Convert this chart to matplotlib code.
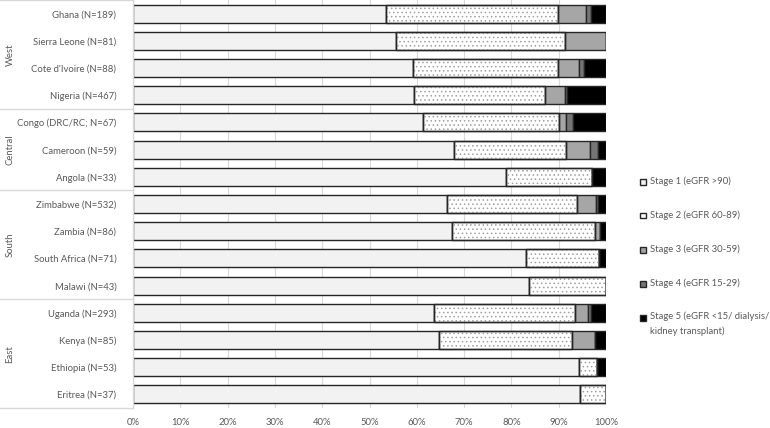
import matplotlib
matplotlib.use("Agg")
import matplotlib.pyplot as plt
from matplotlib.patches import Rectangle
from matplotlib.lines import Line2D

plt.rcParams['font.family'] = ['Lato', 'DejaVu Sans']

countries = ["Ghana (N=189)", "Sierra Leone (N=81)", "Cote d'Ivoire (N=88)", "Nigeria (N=467)",
             "Congo (DRC/RC; N=67)", "Cameroon (N=59)", "Angola (N=33)",
             "Zimbabwe (N=532)", "Zambia (N=86)", "South Africa (N=71)", "Malawi (N=43)",
             "Uganda (N=293)", "Kenya (N=85)", "Ethiopia (N=53)", "Eritrea (N=37)"]
regions = ["West", "Central", "South", "East"]
region_sizes = [4, 3, 4, 4]

stage1 = [53.4, 55.5, 59.1, 59.4, 61.4, 67.8, 78.8, 66.3, 67.4, 83.1, 83.7, 63.7, 64.7, 94.3, 94.6]
stage2 = [36.5, 35.8, 30.7, 27.8, 28.6, 23.7, 18.2, 27.5, 30.2, 15.5, 16.3, 29.7, 28.2, 3.8, 5.4]
stage3 = [5.8, 8.7, 4.5, 4.1, 1.5, 5.1, 0.0, 4.0, 1.2, 0.0, 0.0, 2.7, 4.7, 0.0, 0.0]
stage4 = [1.1, 0.0, 1.0, 0.5, 1.5, 1.7, 0.0, 0.5, 0.0, 0.0, 0.0, 0.7, 0.0, 0.0, 0.0]
stage5 = [3.2, 0.0, 4.7, 8.2, 7.0, 1.7, 3.0, 1.7, 1.2, 1.4, 0.0, 3.2, 2.4, 1.9, 0.0]

legend_labels = ["Stage 1 (eGFR >90)", "Stage 2 (eGFR 60-89)", "Stage 3 (eGFR 30-59)",
                 "Stage 4 (eGFR 15-29)", "Stage 5 (eGFR <15/ dialysis/\nkidney transplant)"]
xticks = [0, 10, 20, 30, 40, 50, 60, 70, 80, 90, 100]
xticklabels = [f"{t}%" for t in xticks]

colors = ["#f2f2f2", "#ffffff", "#a6a6a6", "#757575", "#000000"]
edge = "#262626"
txt = "#595959"
grid = "#d9d9d9"
fs = 6.8

W, H = 770, 428
fig = plt.figure(figsize=(W / 100, H / 100), dpi=100)
ax_left, ax_right, ax_top, ax_bot = 133, 606, 0, 408
ax = fig.add_axes([ax_left / W, 1 - ax_bot / H, (ax_right - ax_left) / W, (ax_bot - ax_top) / H])

n = len(countries)
y = list(range(n))
series = [stage1, stage2, stage3, stage4, stage5]
left = [0.0] * n
bh = 0.66
plt.rcParams['hatch.linewidth'] = 0.6
for i, s in enumerate(series):
    ax.barh(y, s, left=left, height=bh, color=colors[i], edgecolor=edge, linewidth=1.0, zorder=2)
    if i == 1:
        ax.barh(y, s, left=left, height=bh, color="none", edgecolor="#a0a0a0",
                hatch="....", linewidth=0, zorder=3)
        ax.barh(y, s, left=left, height=bh, color="none", edgecolor=edge, linewidth=1.0, zorder=4)
    left = [a + b for a, b in zip(left, s)]

ax.set_xlim(0, 100)
ax.set_ylim(n - 0.5, -0.5)
ax.set_xticks(xticks)
ax.set_xticklabels(xticklabels)
ax.set_yticks(y)
ax.set_yticklabels(countries)
ax.tick_params(axis='both', length=0, colors=txt, labelsize=fs)
ax.tick_params(axis='x', pad=7)
ax.tick_params(axis='y', pad=12)
for sp in ["top", "right", "bottom"]:
    ax.spines[sp].set_visible(False)
ax.spines["left"].set_color(grid)
ax.spines["left"].set_linewidth(1.0)
ax.set_axisbelow(True)
ax.xaxis.grid(True, color=grid, linewidth=0.8, zorder=0)

# group separators and labels
bounds = [-0.5]
acc = -0.5
for s in region_sizes:
    acc += s
    bounds.append(acc)
for b in bounds:
    ax.add_line(Line2D([-28.2, 0], [b, b], transform=ax.transData, color=grid, linewidth=1.0,
                       clip_on=False))
for k, r in enumerate(regions):
    mid = (bounds[k] + bounds[k + 1]) / 2
    ax.text(-26.0, mid, r, rotation=90, ha="center", va="center", fontsize=fs, color=txt,
            transform=ax.transData, clip_on=False)

# legend
leg_y = [181, 215, 249, 283, 317]
for i, lab in enumerate(legend_labels):
    yy = leg_y[i]
    fig.patches.append(Rectangle((640 / W, 1 - (yy + 3.5) / H), 6 / W, 6 / H, transform=fig.transFigure,
                                 facecolor=colors[i], edgecolor=edge, linewidth=1.0))
    if "\n" in lab:
        fig.text(649.5 / W, 1 - (yy - 5.5) / H, lab, ha="left", va="top",
                 fontsize=fs, color=txt, linespacing=1.7)
    else:
        fig.text(649.5 / W, 1 - yy / H, lab, ha="left", va="center", fontsize=fs, color=txt)

fig.savefig("out.png", dpi=100)
